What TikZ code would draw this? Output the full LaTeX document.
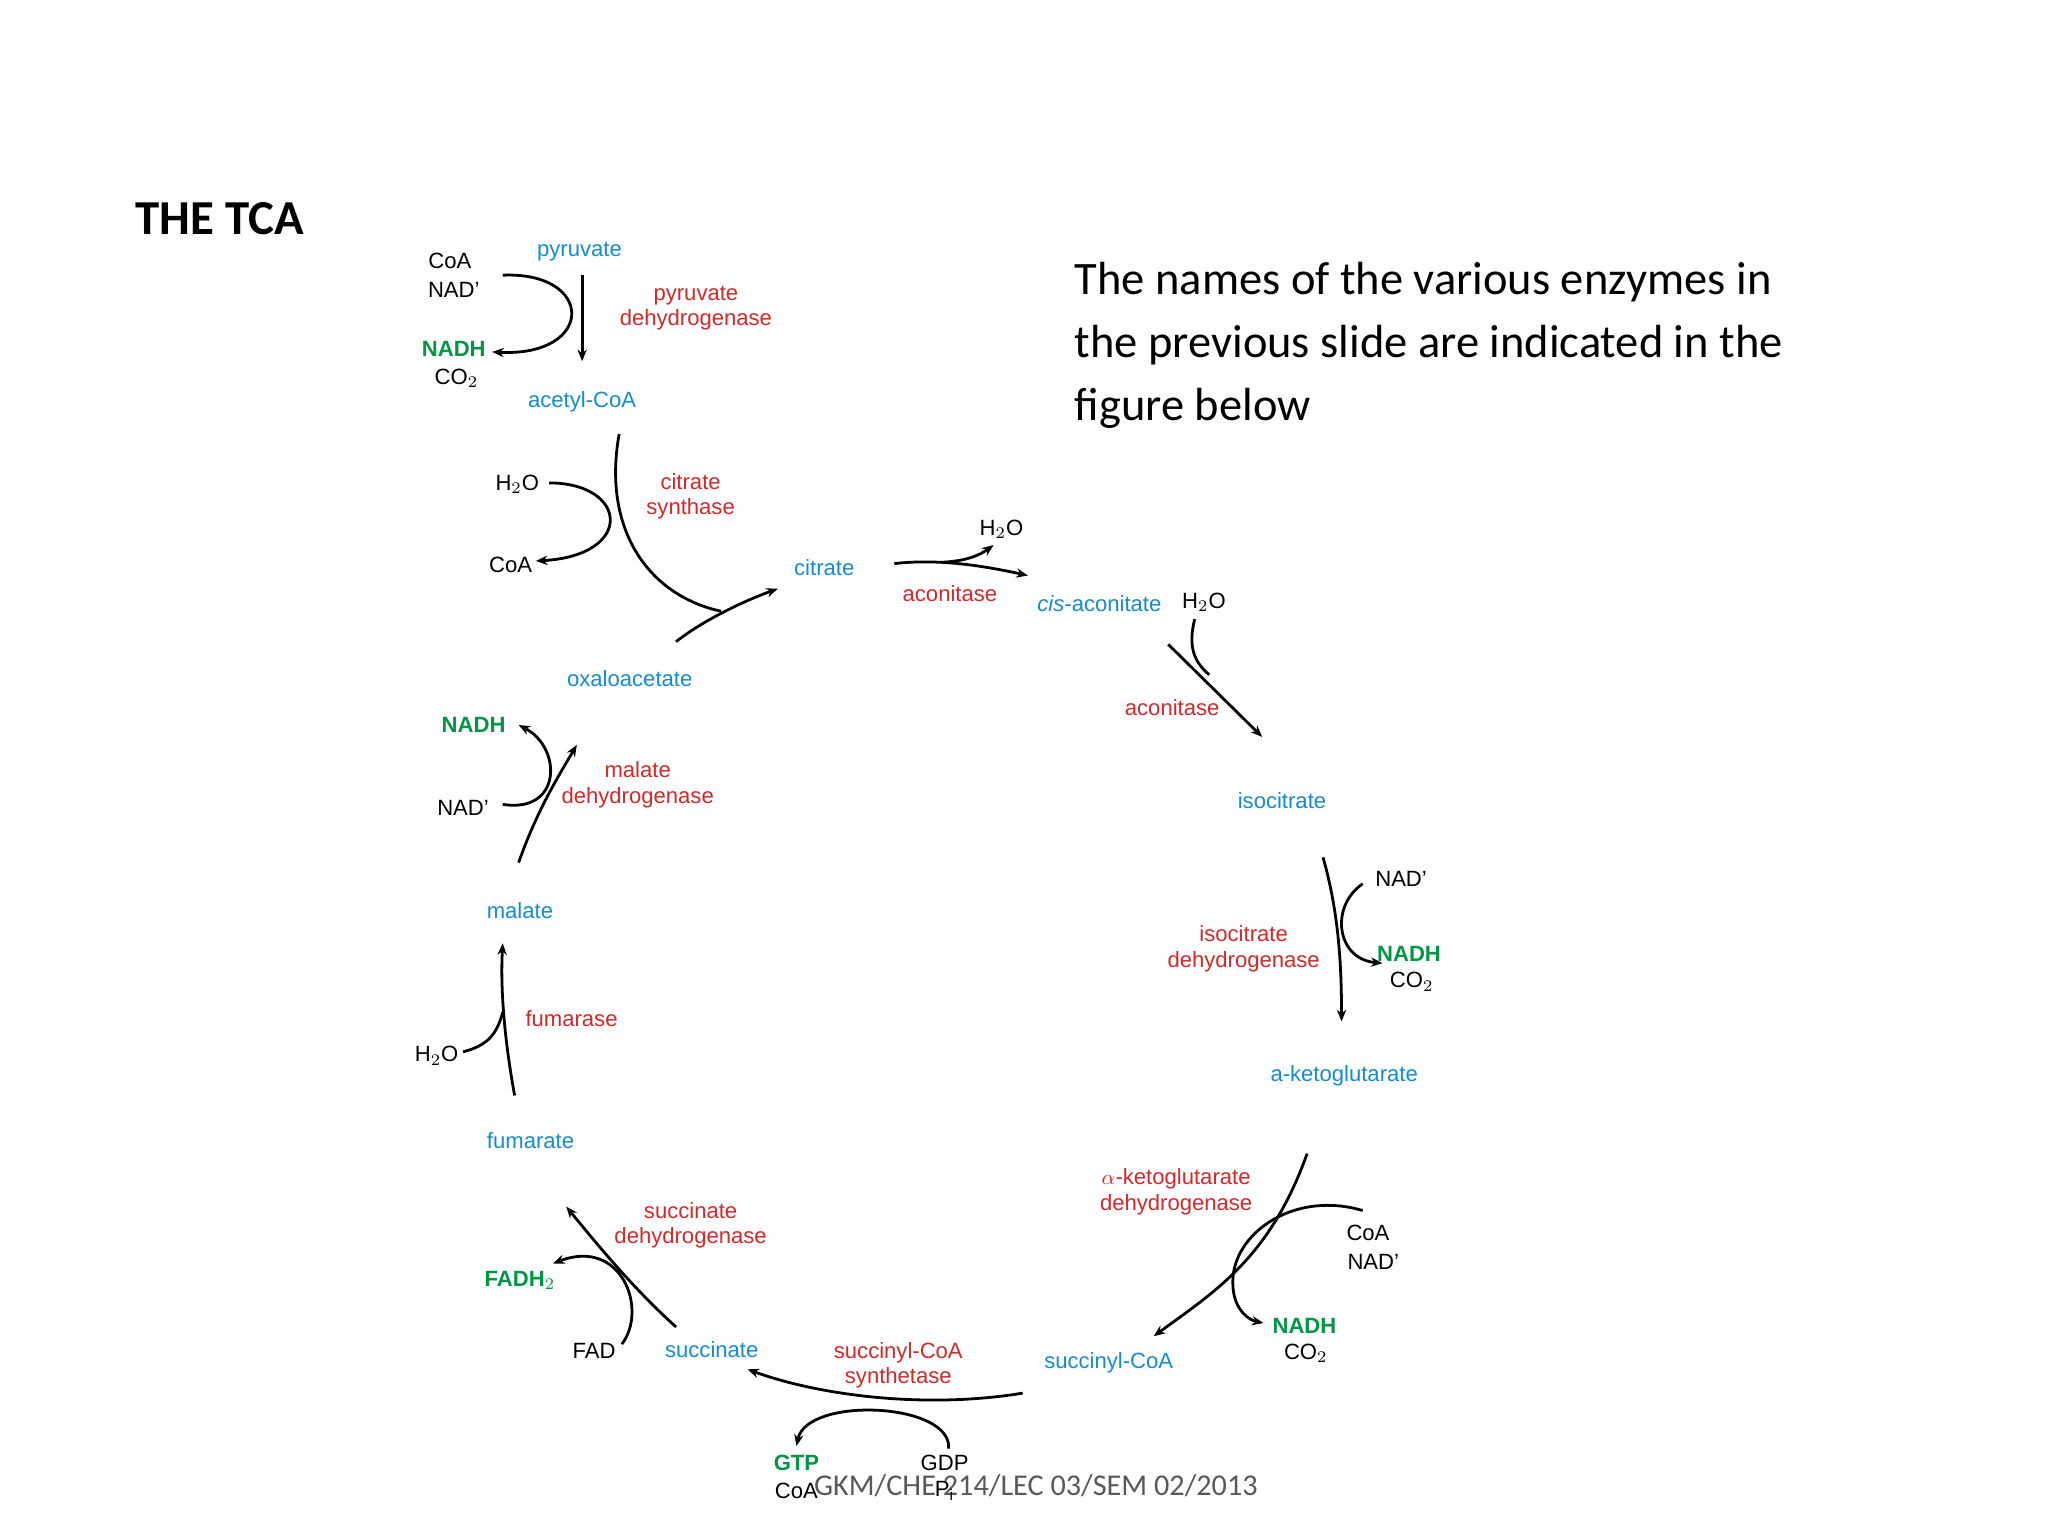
\documentclass[tikz,border=0pt]{standalone}
\usepackage{fontspec}
\setmainfont{Liberation Sans}
\newfontfamily\calfont{Carlito}
\usetikzlibrary{arrows.meta}
\definecolor{mblue}{RGB}{20,140,210}
\definecolor{mred}{RGB}{215,40,40}
\definecolor{mgreen}{RGB}{0,150,70}
\begin{document}
\begin{tikzpicture}[x=0.02cm,y=-0.02cm,
 lb/.style={font=\fontsize{9.5}{11}\selectfont,inner sep=0pt,align=center},
 met/.style={lb,text=mblue},
 enz/.style={lb,text=mred},
 cof/.style={lb},
 gr/.style={lb,text=mgreen,font=\fontsize{9.5}{11}\selectfont\bfseries},
 ar/.style={line width=1.2pt,-{Stealth[length=5pt,width=4pt]}},
 ln/.style={line width=1.2pt}]
\useasboundingbox (0,0) rectangle (1548,1161);
\node[font=\calfont\fontsize{21}{24}\selectfont\bfseries] (title) at (166,165) {THE TCA};
\node[font=\calfont\fontsize{20}{27}\selectfont,align=left,anchor=north west,inner sep=0pt] (txt) at (812,198) {The names of the various enzymes in\\the previous slide are indicated in the\\figure below};
\node[font=\calfont\fontsize{13}{15}\selectfont,text=black!65] (foot) at (783,1123) {GKM/CHE 214/LEC 03/SEM 02/2013};
% step 1
\node[met] (pyr) at (438,190) {pyruvate};
\node[cof] (coa1) at (340,197) {CoA};
\node[cof] (nad1) at (343,219) {NAD'};
\node[gr] (nadh1) at (343,264) {NADH};
\node[cof] (co21) at (345,286) {CO$_2$};
\node[enz] (pdh) at (526,233) {pyruvate\\dehydrogenase};
\node[met] (acoa) at (440,304) {acetyl-CoA};
\draw[ar] (440,208) -- (440,273);
\draw[ar] (380,208) .. controls (450,205) and (450,270) .. (372,266);
% step 2
\node[enz] (cs) at (522,375) {citrate\\synthase};
\node[cof] (h2o2) at (391,366) {H$_2$O};
\node[cof] (coa2) at (386,427) {CoA};
\node[met] (cit) at (623,429) {citrate};
\node[met] (oaa) at (476,513) {oxaloacetate};
\draw[ln] (468,328) .. controls (455,400) and (490,450) .. (545,462);
\draw[ar] (511,485) .. controls (530,470) and (560,455) .. (588,445);
\draw[ar] (415,365) .. controls (475,365) and (480,420) .. (405,424);
% step 3
\node[enz] (acn1) at (718,449) {aconitase};
\node[cof] (h2o3) at (757,400) {H$_2$O};
\node[met] (cis) at (831,456) {\textit{cis}-aconitate};
\draw[ar] (676,426) .. controls (710,422) and (745,428) .. (777,435);
\draw[ar] (712,425) .. controls (730,424) and (740,420) .. (751,412);
% step 4
\node[cof] (h2o4) at (910,455) {H$_2$O};
\node[enz] (acn2) at (886,535) {aconitase};
\node[met] (iso) at (969,605) {isocitrate};
\draw[ar] (883,487) -- (954,557);
\draw[ln] (903,468) .. controls (898,488) and (902,500) .. (914,510);
% step 5
\node[enz] (idh) at (940,717) {isocitrate\\dehydrogenase};
\node[cof] (nad5) at (1059,664) {NAD'};
\node[gr] (nadh5) at (1065,721) {NADH};
\node[cof] (co25) at (1067,742) {CO$_2$};
\node[met] (akg) at (1016,813) {a-ketoglutarate};
\draw[ar] (1000,648) .. controls (1012,690) and (1014,730) .. (1014,772);
\draw[ar] (1030,668) .. controls (1005,685) and (1010,725) .. (1045,728);
% step 6
\node[enz] (akgdh) at (889,901) {$\alpha$-ketoglutarate\\dehydrogenase};
\node[cof] (coa6) at (1034,932) {CoA};
\node[cof] (nad6) at (1038,954) {NAD'};
\node[gr] (nadh6) at (986,1002) {NADH};
\node[cof] (co26) at (987,1023) {CO$_2$};
\node[met] (scoa) at (838,1030) {succinyl-CoA};
\draw[ar] (988,872) .. controls (960,950) and (920,975) .. (872,1010);
\draw[ar] (1030,915) .. controls (980,900) and (935,930) .. (932,965) .. controls (930,990) and (945,998) .. (955,1000);
% step 7
\node[enz] (scs) at (679,1032) {succinyl-CoA\\synthetase};
\node[gr] (gtp) at (602,1106) {GTP};
\node[cof] (coa7) at (602,1127) {CoA};
\node[cof] (gdp) at (714,1106) {GDP};
\node[cof] (pi) at (714,1127) {P$_\mathrm{i}$};
\draw[ar] (773,1053) .. controls (700,1065) and (620,1055) .. (565,1035);
\draw[ar] (717,1095) .. controls (720,1060) and (610,1055) .. (602,1093);
% step 8
\node[met] (succ) at (538,1020) {succinate};
\node[cof] (fad) at (449,1021) {FAD};
\node[gr] (fadh) at (393,968) {FADH$_2$};
\node[enz] (sdh) at (522,926) {succinate\\dehydrogenase};
\draw[ar] (511,1003) .. controls (480,975) and (455,945) .. (428,912);
\draw[ar] (470,1016) .. controls (490,990) and (470,935) .. (418,955);
% step 9
\node[met] (fum) at (401,862) {fumarate};
\node[enz] (fumase) at (432,770) {fumarase};
\node[cof] (h2o9) at (330,798) {H$_2$O};
\node[met] (mal) at (393,688) {malate};
\draw[ar] (389,828) .. controls (382,790) and (378,750) .. (380,713);
\draw[ln] (350,795) .. controls (370,790) and (376,780) .. (380,765);
% step 10
\node[enz] (mdh) at (482,593) {malate\\dehydrogenase};
\node[gr] (nadh10) at (358,548) {NADH};
\node[cof] (nad10) at (350,611) {NAD'};
\draw[ar] (392,652) .. controls (405,615) and (420,590) .. (436,563);
\draw[ar] (380,608) .. controls (425,615) and (425,565) .. (392,548);
\end{tikzpicture}
\end{document}
